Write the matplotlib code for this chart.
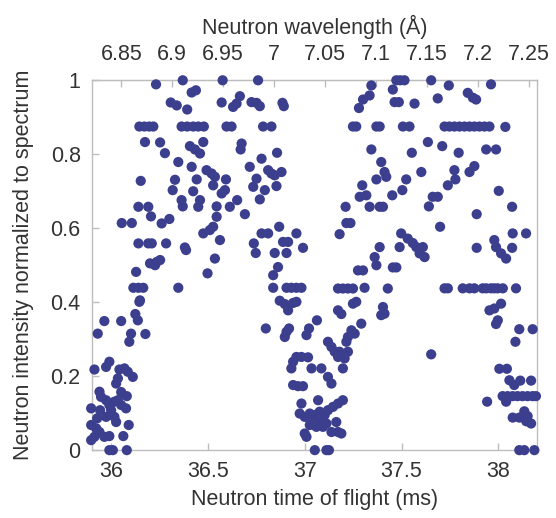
import numpy as np
import matplotlib
matplotlib.use("Agg")
import matplotlib.pyplot as plt

plt.rcParams['font.family'] = ['Liberation Sans', 'DejaVu Sans']

# (time of flight [ms], normalized intensity) measurements, grouped by region
first_dip = [
    (36.146, 0.401), (36.125, 0.368), (36.138, 0.351), (35.965, 0.349), (36.052, 0.349),
    (35.931, 0.315), (36.103, 0.315), (36.094, 0.293), (36.177, 0.314), (35.914, 0.218),
    (35.974, 0.225), (35.991, 0.239), (36.043, 0.218), (36.069, 0.221), (36.086, 0.212),
    (36.112, 0.198), (36.035, 0.194), (36.026, 0.180), (35.940, 0.158), (35.948, 0.144),
    (35.974, 0.135), (35.991, 0.122), (36.017, 0.131), (36.035, 0.135), (36.052, 0.122),
    (36.077, 0.113), (36.081, 0.146), (35.897, 0.113), (35.974, 0.090), (36.017, 0.090),
    (36.026, 0.076), (36.091, 0.068), (35.897, 0.068), (35.923, 0.059), (35.940, 0.049),
    (35.914, 0.036), (35.897, 0.027), (35.965, 0.036), (35.991, 0.038), (36.063, 0.038),
    (35.991, 0.0), (36.009, 0.0), (36.081, 0.0), (35.943, 0.108), (36.000, 0.108),
    (35.928, 0.086), (36.052, 0.157),
]

first_peak_rise = [
    (36.129, 0.482), (36.201, 0.505), (36.236, 0.509), (36.253, 0.514), (36.227, 0.500),
    (36.115, 0.439), (36.141, 0.439), (36.166, 0.439), (36.149, 0.405), (36.347, 0.439),
    (36.387, 0.541), (36.536, 0.518), (36.498, 0.478),
    (36.141, 0.559), (36.192, 0.559), (36.210, 0.559), (36.284, 0.559), (36.381, 0.548),
    (36.055, 0.614), (36.107, 0.614), (36.261, 0.613), (36.301, 0.625), (36.206, 0.632),
    (36.141, 0.658), (36.192, 0.658), (36.364, 0.676), (36.370, 0.659), (36.318, 0.703),
    (36.153, 0.728), (36.330, 0.731), (36.278, 0.803), (36.175, 0.833), (36.253, 0.832),
    (36.407, 0.822), (36.433, 0.813), (36.459, 0.802), (36.476, 0.833),
    (36.146, 0.875), (36.172, 0.875), (36.197, 0.875), (36.218, 0.875),
    (36.364, 0.875), (36.393, 0.875), (36.424, 0.875), (36.450, 0.875), (36.479, 0.875),
    (36.596, 0.875), (36.622, 0.875),
    (36.232, 0.989), (36.370, 1.000), (36.416, 0.967), (36.438, 0.973), (36.308, 0.940),
    (36.339, 0.932), (36.393, 0.921),
    (36.576, 1.000), (36.571, 0.940), (36.630, 0.928), (36.648, 0.937), (36.665, 0.957),
    (36.347, 0.779), (36.416, 0.766), (36.493, 0.757), (36.519, 0.748), (36.536, 0.739),
    (36.442, 0.732), (36.527, 0.716), (36.593, 0.732), (36.424, 0.700), (36.571, 0.694),
    (36.588, 0.703), (36.459, 0.676), (36.450, 0.658), (36.545, 0.659), (36.613, 0.658),
    (36.651, 0.676), (36.545, 0.631), (36.527, 0.604), (36.510, 0.595), (36.476, 0.586),
    (36.562, 0.568),
]

first_peak_fall = [
    (36.759, 1.000), (36.725, 0.941), (36.751, 0.939), (36.768, 0.930), (36.885, 0.939),
    (36.892, 0.930), (36.785, 0.875), (36.828, 0.875), (36.674, 0.829), (36.669, 0.813),
    (36.857, 0.804), (36.777, 0.788), (36.716, 0.766), (36.811, 0.757), (36.828, 0.748),
    (36.845, 0.743), (36.880, 0.752), (36.751, 0.734), (36.734, 0.712), (36.794, 0.703),
    (36.854, 0.714), (36.768, 0.678), (36.691, 0.638), (36.868, 0.604), (36.777, 0.586),
    (36.811, 0.586), (36.957, 0.586), (36.888, 0.563), (36.914, 0.563), (36.737, 0.559),
    (36.747, 0.533), (36.845, 0.533), (36.906, 0.533), (36.991, 0.547),
]

second_dip = [
    (36.862, 0.495), (36.837, 0.473), (36.837, 0.439), (36.906, 0.439), (36.931, 0.439),
    (36.957, 0.439), (36.983, 0.439), (36.871, 0.404), (36.897, 0.395), (36.914, 0.378),
    (36.940, 0.398), (36.957, 0.401), (36.799, 0.329), (36.919, 0.329), (36.906, 0.320),
    (36.897, 0.306), (37.063, 0.351), (37.022, 0.329), (37.009, 0.311), (36.957, 0.252),
    (36.940, 0.239), (36.931, 0.221), (36.983, 0.252), (37.017, 0.251), (37.035, 0.221),
    (37.086, 0.221), (37.120, 0.198), (37.138, 0.180), (36.940, 0.176), (36.965, 0.173),
    (36.991, 0.173), (36.983, 0.126), (37.069, 0.135), (37.197, 0.135),
    (36.974, 0.099), (37.000, 0.090), (37.026, 0.099), (37.052, 0.095), (37.077, 0.104),
    (37.103, 0.095), (37.120, 0.108), (37.146, 0.117), (37.172, 0.126), (37.043, 0.081),
    (37.077, 0.076), (37.112, 0.072), (37.026, 0.068), (37.060, 0.063), (37.094, 0.063),
    (37.163, 0.076), (37.138, 0.049), (37.172, 0.049), (37.189, 0.045), (37.000, 0.045),
    (37.009, 0.036), (37.052, 0.0), (37.112, 0.0), (37.125, 0.0),
]

second_peak_rise = [
    (37.172, 0.437), (37.197, 0.437), (37.223, 0.437), (37.249, 0.437), (37.309, 0.439),
    (37.275, 0.486), (37.301, 0.486), (37.370, 0.500),
    (37.249, 0.396), (37.266, 0.401), (37.172, 0.378), (37.189, 0.368), (37.292, 0.342),
    (37.241, 0.324), (37.258, 0.315), (37.223, 0.306), (37.215, 0.293), (37.120, 0.293),
    (37.138, 0.279), (37.155, 0.266), (37.172, 0.252), (37.180, 0.266), (37.223, 0.266),
    (37.206, 0.248), (37.197, 0.221), (37.404, 0.387), (37.412, 0.369), (37.395, 0.365),
    (37.429, 0.437),
    (37.344, 0.986), (37.335, 0.959), (37.301, 0.948), (37.280, 0.925),
    (37.249, 0.875), (37.266, 0.875), (37.370, 0.875), (37.387, 0.875),
    (37.344, 0.813), (37.395, 0.779), (37.412, 0.752), (37.421, 0.739), (37.370, 0.732),
    (37.297, 0.716), (37.284, 0.685), (37.318, 0.689), (37.335, 0.658), (37.387, 0.658),
    (37.404, 0.658), (37.211, 0.658), (37.215, 0.614), (37.236, 0.614), (37.180, 0.584),
    (37.387, 0.549), (37.361, 0.522),
]

second_peak_top = [
    (37.473, 1.000), (37.493, 1.000), (37.515, 1.000), (37.455, 0.975), (37.464, 0.941),
    (37.486, 0.941), (37.567, 0.937), (37.653, 1.000), (37.744, 0.986), (37.687, 0.951),
    (37.842, 0.966), (37.868, 0.953), (37.885, 0.948), (37.962, 0.989),
    (37.507, 0.875), (37.541, 0.875), (37.722, 0.875), (37.747, 0.875), (37.773, 0.875),
    (37.799, 0.875), (37.825, 0.875), (37.851, 0.875), (37.876, 0.875), (37.902, 0.875),
    (37.928, 0.875), (37.954, 0.875), (38.036, 0.874),
    (37.636, 0.833), (37.710, 0.822), (37.553, 0.804), (37.795, 0.804), (37.937, 0.813),
    (37.988, 0.813), (37.602, 0.752), (37.773, 0.757), (37.778, 0.732), (37.739, 0.716),
    (37.876, 0.768), (37.851, 0.752), (37.524, 0.732), (37.504, 0.703), (37.452, 0.689),
    (37.661, 0.685), (37.687, 0.685), (37.641, 0.659), (38.002, 0.701), (38.071, 0.658),
    (37.888, 0.638), (37.699, 0.604), (37.498, 0.586), (37.532, 0.572), (37.558, 0.560),
    (38.074, 0.586), (38.143, 0.586), (37.979, 0.568), (37.988, 0.549), (38.014, 0.532),
    (38.040, 0.518), (37.490, 0.549), (37.576, 0.549), (37.610, 0.549), (37.593, 0.532),
    (37.619, 0.522), (37.888, 0.547), (38.071, 0.547), (37.455, 0.494), (37.473, 0.494),
]

third_dip = [
    (37.722, 0.4375), (37.739, 0.4375), (37.816, 0.4375), (37.851, 0.4375), (37.876, 0.4375),
    (37.919, 0.4375), (37.937, 0.4375), (37.962, 0.4375), (37.979, 0.4375), (37.997, 0.4375),
    (38.023, 0.4375), (38.091, 0.4375),
    (38.014, 0.396), (37.979, 0.383), (37.954, 0.378), (37.997, 0.351), (37.988, 0.341),
    (38.108, 0.327), (38.177, 0.327), (38.088, 0.293), (37.653, 0.259),
    (38.005, 0.220), (38.044, 0.220), (38.057, 0.189), (38.082, 0.176), (38.113, 0.188),
    (38.169, 0.188),
    (38.022, 0.146), (38.048, 0.146), (38.074, 0.146), (38.099, 0.146), (38.125, 0.146),
    (38.151, 0.146), (38.177, 0.146), (38.194, 0.146),
    (38.040, 0.131), (37.942, 0.131), (38.074, 0.088), (38.108, 0.088), (38.134, 0.105),
    (38.151, 0.092), (38.144, 0.078), (38.169, 0.072),
    (38.108, 0.0), (38.134, 0.0), (38.186, 0.0),
]

tof_ticks = [36, 36.5, 37, 37.5, 38]
tof_labels = ['36', '36.5', '37', '37.5', '38']
intensity_ticks = [0, 0.2, 0.4, 0.6, 0.8, 1]
intensity_labels = ['0', '0.2', '0.4', '0.6', '0.8', '1']
wavelength_ticks = [6.85, 6.9, 6.95, 7, 7.05, 7.1, 7.15, 7.2, 7.25]
wavelength_labels = ['6.85', '6.9', '6.95', '7', '7.05', '7.1', '7.15', '7.2', '7.25']
angstrom_per_ms = 0.19  # wavelength / time-of-flight for this flight path

points = np.array(first_dip + first_peak_rise + first_peak_fall + second_dip
                  + second_peak_rise + second_peak_top + third_dip)
tof, intensity = points[:, 0], points[:, 1]

text_color = '#333333'
spine_color = '#bdbdbd'
dot_color = '#3b3f8e'
fs = 15.5

fig = plt.figure(figsize=(5.56, 5.18), dpi=100)
ax = fig.add_axes([0.165, 0.131, 0.801, 0.714])

ax.scatter(tof, intensity, s=54, color=dot_color, edgecolors='none',
           clip_on=False, zorder=3)

ax.set_xlim(35.9, 38.2)
ax.set_ylim(0, 1)
ax.set_xticks(tof_ticks)
ax.set_xticklabels(tof_labels)
ax.set_yticks(intensity_ticks)
ax.set_yticklabels(intensity_labels)

for s in ax.spines.values():
    s.set_color(spine_color)
    s.set_linewidth(1.0)

ax.tick_params(direction='in', length=5, width=1, color=spine_color,
               labelsize=fs, labelcolor=text_color, pad=8)
ax.set_xlabel('Neutron time of flight (ms)', fontsize=fs, color=text_color, labelpad=5)
ax.set_ylabel('Neutron intensity normalized to spectrum', fontsize=fs,
              color=text_color, labelpad=12)

secax = ax.secondary_xaxis('top', functions=(lambda t: t * angstrom_per_ms,
                                             lambda w: w / angstrom_per_ms))
secax.set_xticks(wavelength_ticks)
secax.set_xticklabels(wavelength_labels)
secax.tick_params(direction='in', length=5, width=1, color=spine_color,
                  labelsize=fs, labelcolor=text_color, pad=11)
secax.spines['top'].set_color(spine_color)
secax.set_xlabel('Neutron wavelength (Å)', fontsize=fs, color=text_color, labelpad=7)

fig.savefig('out.png', dpi=100)
